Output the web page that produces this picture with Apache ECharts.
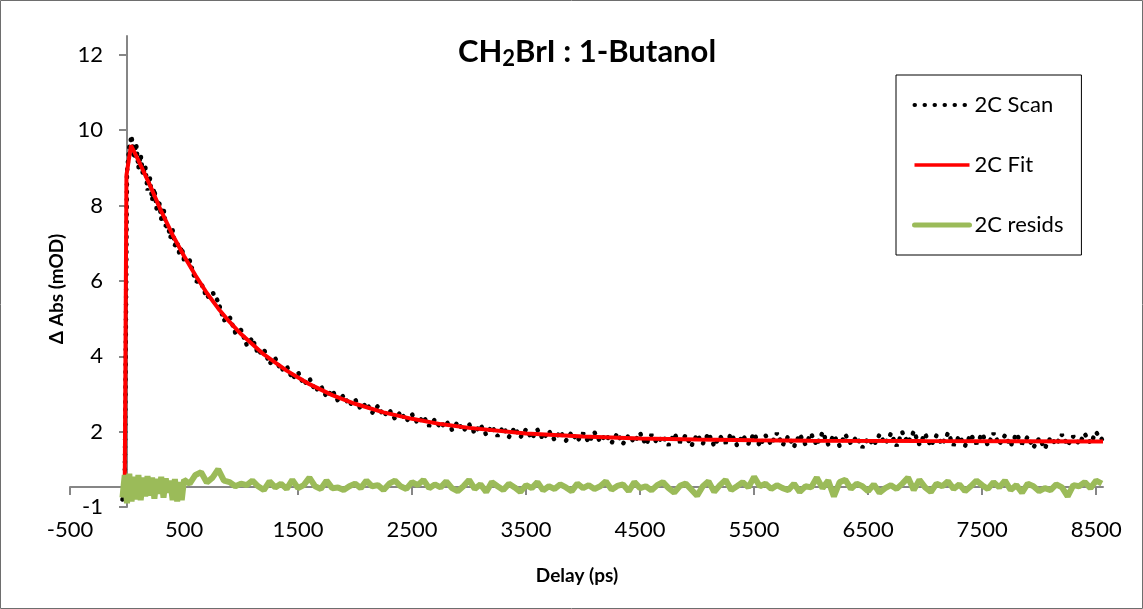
<!DOCTYPE html>
<html><head><meta charset="utf-8">
<script src="https://cdn.jsdelivr.net/npm/echarts@6/dist/echarts.min.js"></script>
<style>html,body{margin:0;padding:0;background:#fff}#c{width:1143px;height:609px}</style>
</head><body><div id="c"></div>
<script>
const scanTime = [-40,-20,0,20,40,60,80,100,120,140,160,180,200,220,240,260,280,300,320,340,360,380,400,420,440,460,480,500,
550,600,650,700,750,800,850,900,950,1000,
1050,1100,1150,1200,1250,1300,1350,1400,1450,1500,
1550,1600,1650,1700,1750,1800,1850,1900,1950,2000,
2050,2100,2150,2200,2250,2300,2350,2400,2450,2500,
2550,2600,2650,2700,2750,2800,2850,2900,2950,3000,
3050,3100,3150,3200,3250,3300,3350,3400,3450,3500,
3550,3600,3650,3700,3750,3800,3850,3900,3950,4000,
4050,4100,4150,4200,4250,4300,4350,4400,4450,4500,
4550,4600,4650,4700,4750,4800,4850,4900,4950,5000,
5050,5100,5150,5200,5250,5300,5350,5400,5450,5500,
5550,5600,5650,5700,5750,5800,5850,5900,5950,6000,
6050,6100,6150,6200,6250,6300,6350,6400,6450,6500,
6550,6600,6650,6700,6750,6800,6850,6900,6950,7000,
7050,7100,7150,7200,7250,7300,7350,7400,7450,7500,
7550,7600,7650,7700,7750,7800,7850,7900,7950,8000,
8050,8100,8150,8200,8250,8300,8350,8400,8450,8500,
8550];
const scanAbs = [0.20,0.45,8.90,9.55,9.85,9.25,9.65,9.00,9.35,8.80,9.05,8.40,8.75,8.15,8.45,7.90,8.15,7.65,7.95,7.45,7.45,7.15,7.35,6.95,7.05,6.70,6.90,6.55,
6.55,6.00,5.95,5.55,5.70,5.45,4.95,5.05,4.62,4.70,
4.30,4.48,4.05,4.20,3.80,3.95,3.62,3.75,3.40,3.58,
3.25,3.42,3.08,3.22,2.92,3.10,2.82,2.96,2.70,2.86,
2.60,2.76,2.50,2.68,2.42,2.58,2.34,2.52,2.28,2.46,
2.22,2.40,2.15,2.32,2.10,2.28,2.05,2.25,2.02,2.20,
1.96,2.18,1.92,2.14,1.88,2.12,1.86,2.10,1.85,2.06,
1.82,2.05,1.80,2.02,1.78,2.00,1.76,1.98,1.75,1.96,
1.72,1.98,1.74,1.92,1.70,1.95,1.68,1.90,1.72,1.96,
1.66,1.92,1.70,1.88,1.64,1.94,1.72,1.90,1.62,1.92,
1.68,1.95,1.62,1.88,1.70,1.94,1.64,1.90,1.68,1.95,
1.62,1.90,1.66,1.96,1.64,1.88,1.60,1.92,1.66,1.94,
1.64,1.98,1.66,1.90,1.62,1.92,1.68,1.86,1.58,1.82,
1.64,1.92,1.68,1.95,1.62,1.98,1.70,2.00,1.66,1.94,
1.62,1.90,1.66,1.96,1.64,1.88,1.62,1.92,1.68,1.94,
1.64,1.96,1.66,1.90,1.62,1.94,1.68,1.86,1.58,1.82,
1.56,1.84,1.66,1.92,1.64,1.88,1.68,1.94,1.70,1.98,
1.80];
const residAbs = [0.25,0.85,0.10,0.88,0.15,0.80,0.20,0.85,0.18,0.78,0.28,0.82,0.30,0.78,0.22,0.75,0.35,0.80,0.25,0.76,0.38,0.70,0.18,0.74,0.15,0.66,0.18,0.72,
0.62,0.85,0.92,0.65,0.78,1.00,0.70,0.66,0.55,0.62,
0.58,0.70,0.55,0.45,0.68,0.52,0.62,0.48,0.72,0.50,
0.58,0.78,0.55,0.48,0.70,0.50,0.52,0.45,0.55,0.62,
0.50,0.70,0.55,0.58,0.45,0.62,0.70,0.55,0.48,0.66,
0.58,0.72,0.50,0.60,0.52,0.68,0.50,0.42,0.55,0.72,
0.48,0.60,0.40,0.66,0.55,0.45,0.62,0.52,0.40,0.58,
0.50,0.66,0.44,0.55,0.48,0.60,0.52,0.42,0.62,0.50,
0.58,0.48,0.55,0.68,0.46,0.56,0.60,0.42,0.66,0.50,
0.55,0.44,0.58,0.66,0.50,0.38,0.56,0.62,0.46,0.30,
0.55,0.68,0.40,0.58,0.72,0.45,0.55,0.66,0.52,0.80,
0.55,0.62,0.48,0.58,0.50,0.45,0.62,0.40,0.55,0.52,
0.78,0.50,0.70,0.28,0.66,0.72,0.48,0.62,0.55,0.42,
0.60,0.38,0.50,0.58,0.48,0.62,0.78,0.45,0.72,0.52,
0.40,0.62,0.55,0.68,0.48,0.60,0.42,0.55,0.70,0.58,
0.48,0.66,0.52,0.70,0.45,0.58,0.38,0.62,0.55,0.42,
0.50,0.45,0.60,0.52,0.28,0.58,0.55,0.66,0.50,0.70,
0.62];
const fitTime = [-20,-5,35,100,200,300,400,500,600,700,800,900,1000,1200,1400,1600,1800,2000,2250,2500,2750,3000,3500,4000,4500,5000,5500,6000,7000,8560];
const fitAbs  = [0.50,8.80,9.60,9.20,8.55,7.85,7.22,6.66,6.15,5.68,5.27,4.91,4.59,4.05,3.62,3.26,2.97,2.74,2.51,2.34,2.20,2.10,1.95,1.87,1.82,1.79,1.77,1.76,1.75,1.74];
const xTicks = [-500,500,1500,2500,3500,4500,5500,6500,7500,8500];
const yTicks = [0,2,4,6,8,10,12];
const yTickLabels = ['-1','2','4','6','8','10','12'];

const zip = (xs, ys) => xs.map((x, i) => [x, ys[i]]);
const FONT = 'Lato';
const AXIS = '#868686';
const chart = echarts.init(document.getElementById('c'), null, {renderer: 'canvas'});
chart.setOption({
  animation: false,
  backgroundColor: '#fff',
  title: {
    text: '{a|CH}{s|2}{a|BrI : 1-Butanol}',
    left: 582, top: 29, textAlign: 'center',
    textStyle: { rich: {
      a: {fontFamily: FONT, fontWeight: 'bold', fontSize: 31, color: '#000', lineHeight: 36},
      s: {fontFamily: FONT, fontWeight: 'bold', fontSize: 22, color: '#000', lineHeight: 10, verticalAlign: 'bottom'}
    }}
  },
  legend: {
    data: [
      {name: '2C Scan', lineStyle: {width: 4, type: [0.5, 9.5], cap: 'round', color: '#000'}},
      {name: '2C Fit', lineStyle: {width: 3.5, color: '#ff0000'}},
      {name: '2C resids', lineStyle: {width: 5, color: '#9bbb59', cap: 'round'}}
    ],
    orient: 'vertical', left: 896, top: 75,
    padding: [19, 18, 19, 16], itemWidth: 55, itemHeight: 14, itemGap: 38,
    borderColor: '#000', borderWidth: 1,
    itemStyle: {opacity: 0},
    textStyle: {fontFamily: FONT, fontSize: 22, color: '#000'}
  },
  grid: {left: 70, right: 40, top: 36, bottom: 102, containLabel: false},
  xAxis: [
    {type: 'value', min: -500, max: 8560, position: 'bottom',
     axisLine: {show: false, onZero: false}, axisTick: {show: false}, splitLine: {show: false},
     axisLabel: {customValues: xTicks, formatter: v => String(v), fontFamily: FONT, fontSize: 22, color: '#000', margin: 12}},
    {type: 'value', min: -500, max: 8560, position: 'bottom',
     axisLine: {show: true, onZero: true, onZeroAxisIndex: 1, lineStyle: {color: AXIS, width: 2}},
     axisTick: {show: true, customValues: xTicks, length: 8, lineStyle: {color: AXIS, width: 2}},
     axisLabel: {show: false}, splitLine: {show: false}}
  ],
  yAxis: [
    {type: 'value', min: 0, max: 12.5, position: 'left',
     axisLine: {show: true, onZero: true, onZeroAxisIndex: 0, lineStyle: {color: AXIS, width: 2}},
     axisTick: {show: true, customValues: yTicks, length: 8, lineStyle: {color: AXIS, width: 2}},
     axisLabel: {customValues: yTicks, formatter: v => yTickLabels[yTicks.indexOf(v)],
                 fontFamily: FONT, fontSize: 22, color: '#000', margin: -33},
     splitLine: {show: false}},
    {type: 'value', min: -0.53, max: 11.97, show: false, splitLine: {show: false}}
  ],
  series: [
    {name: '2C Scan', type: 'line', data: zip(scanTime, scanAbs), symbol: 'none', z: 3,
     color: '#000', itemStyle: {color: '#000'},
     lineStyle: {color: '#000', width: 4.5, type: [0.5, 7], cap: 'round'}},
    {name: '2C Fit', type: 'line', data: zip(fitTime, fitAbs), symbol: 'none', z: 4,
     color: '#ff0000', itemStyle: {color: '#ff0000'},
     lineStyle: {color: '#ff0000', width: 4}},
    {name: '2C resids', type: 'line', data: zip(scanTime, residAbs), symbol: 'none', z: 5,
     color: '#9bbb59', itemStyle: {color: '#9bbb59'},
     lineStyle: {color: '#9bbb59', width: 6}}
  ],
  graphic: [
    {type: 'rect', silent: true, shape: {x: 0.5, y: 0.5, width: 1142, height: 608},
     style: {fill: null, stroke: '#6e6e6e', lineWidth: 1}},
    {type: 'text', x: 577, y: 576, silent: true,
     style: {text: 'Delay (ps)', font: 'bold 19px Lato', fill: '#000', align: 'center', verticalAlign: 'middle'}},
    {type: 'text', x: 57, y: 289, rotation: Math.PI / 2, silent: true,
     style: {text: 'Δ Abs (mOD)', font: 'bold 19px Lato', fill: '#000', align: 'center', verticalAlign: 'middle'}}
  ]
});
</script></body></html>
